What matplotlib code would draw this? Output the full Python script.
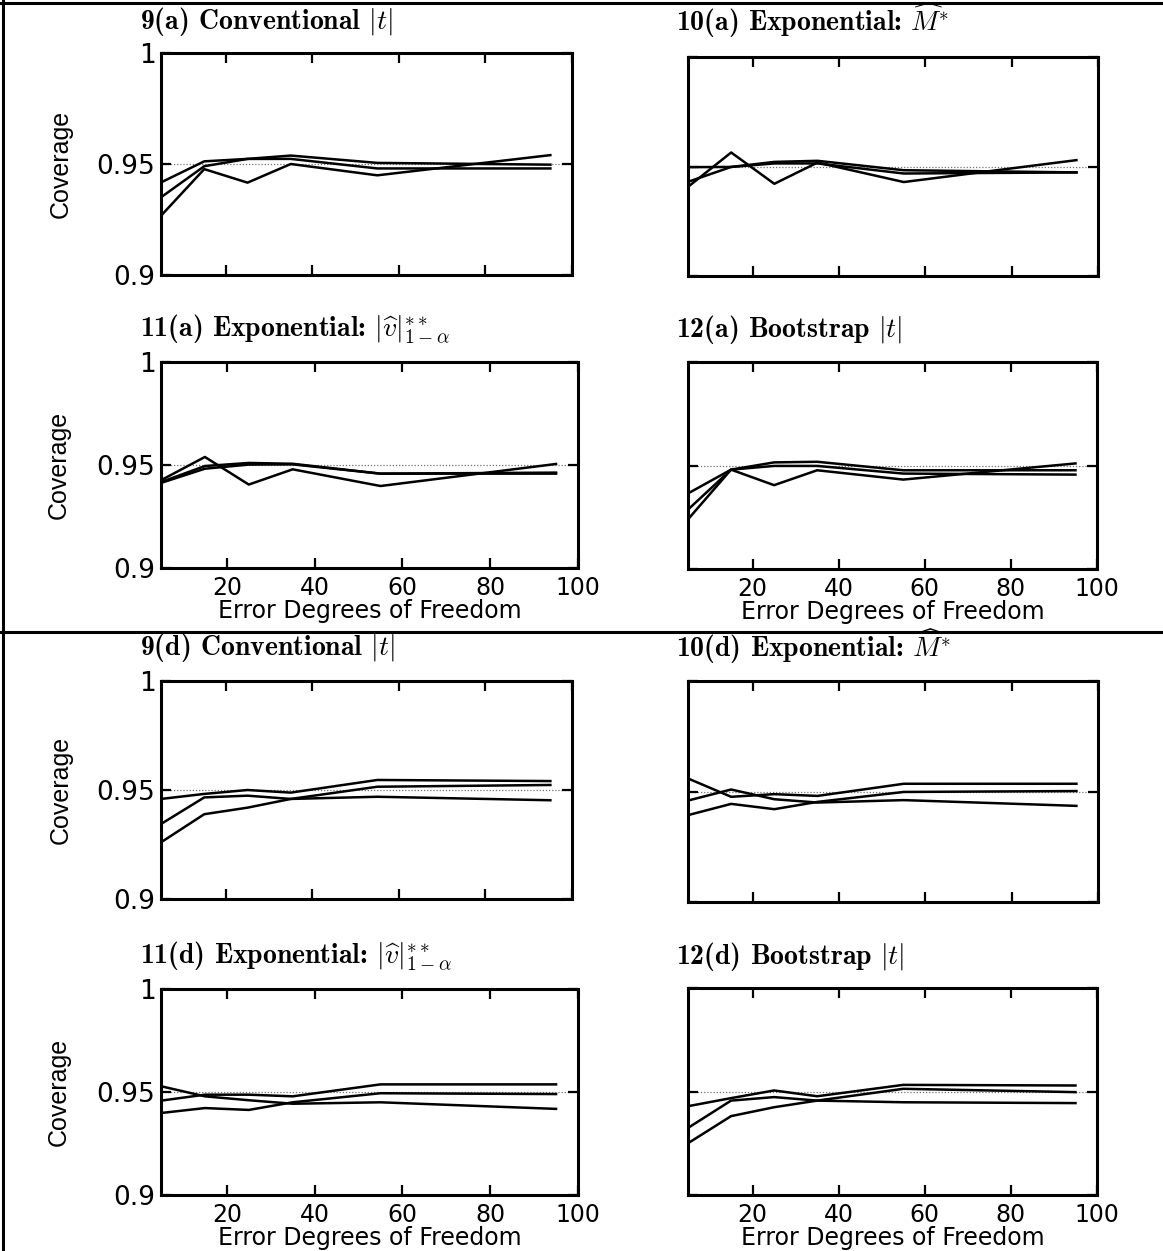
import matplotlib
matplotlib.use("Agg")
import matplotlib.pyplot as plt
from matplotlib.lines import Line2D

# error degrees of freedom at which coverage was simulated
df = [5, 15, 25, 35, 55, 95]
nominal = 0.95

# three curves per panel
cov_9a = [
    [0.9417, 0.9512, 0.9523, 0.9538, 0.9505, 0.9497],
    [0.9350, 0.9490, 0.9523, 0.9523, 0.9480, 0.9480],
    [0.9267, 0.9477, 0.9416, 0.9500, 0.9449, 0.9540],
]
cov_10a = [
    [0.9497, 0.9498, 0.9514, 0.9514, 0.9468, 0.9473],
    [0.9430, 0.9498, 0.9521, 0.9526, 0.9483, 0.9473],
    [0.9407, 0.9564, 0.9421, 0.9518, 0.9429, 0.9529],
]
cov_11a = [
    [0.9417, 0.9495, 0.9510, 0.9506, 0.9458, 0.9463],
    [0.9413, 0.9482, 0.9502, 0.9503, 0.9458, 0.9458],
    [0.9426, 0.9539, 0.9405, 0.9479, 0.9398, 0.9505],
]
cov_12a = [
    [0.9365, 0.9480, 0.9515, 0.9518, 0.9477, 0.9477],
    [0.9287, 0.9480, 0.9498, 0.9498, 0.9461, 0.9456],
    [0.9240, 0.9480, 0.9405, 0.9477, 0.9432, 0.9510],
]
cov_9d = [
    [0.9459, 0.9482, 0.9500, 0.9488, 0.9546, 0.9541],
    [0.9344, 0.9466, 0.9474, 0.9459, 0.9469, 0.9453],
    [0.9260, 0.9389, 0.9419, 0.9459, 0.9515, 0.9523],
]
cov_10d = [
    [0.9559, 0.9476, 0.9488, 0.9480, 0.9535, 0.9535],
    [0.9459, 0.9509, 0.9465, 0.9450, 0.9461, 0.9435],
    [0.9393, 0.9444, 0.9420, 0.9453, 0.9498, 0.9502],
]
cov_11d = [
    [0.9528, 0.9479, 0.9460, 0.9443, 0.9450, 0.9418],
    [0.9458, 0.9487, 0.9487, 0.9479, 0.9537, 0.9537],
    [0.9398, 0.9422, 0.9413, 0.9450, 0.9494, 0.9490],
]
cov_12d = [
    [0.9429, 0.9468, 0.9505, 0.9477, 0.9532, 0.9529],
    [0.9324, 0.9456, 0.9473, 0.9456, 0.9448, 0.9444],
    [0.9250, 0.9381, 0.9424, 0.9456, 0.9513, 0.9497],
]

x_ticks = [20, 40, 60, 80, 100]
y_ticks = [0.9, 0.95, 1.0]
y_ticklabels = ["0.9", "0.95", "1"]

W, H = 1163, 1251

plt.rcParams["mathtext.fontset"] = "cm"
plt.rcParams["font.family"] = "DejaVu Sans"

fig = plt.figure(figsize=(W / 100, H / 100), dpi=100)


def px_box(left, top, right, bottom):
    return [left / W, 1 - bottom / H, (right - left) / W, (bottom - top) / H]


# (data, title, axes box in px, title anchor in px, x labels, y labels)
panels = [
    (cov_9a, r"9(a) Conventional $|t|$", (161, 53, 572, 275), (140, 29), False, True),
    (cov_10a, r"10(a) Exponential: $\widehat{M}^{*}$", (688, 57, 1098, 276), (676, 31), False, False),
    (cov_11a, r"11(a) Exponential: $|\widehat{v}|^{**}_{1-\alpha}$", (161, 362, 578, 568), (140, 337), True, True),
    (cov_12a, r"12(a) Bootstrap $|t|$", (688, 362, 1097, 569), (676, 337), True, False),
    (cov_9d, r"9(d) Conventional $|t|$", (161, 681, 572, 899), (140, 655), False, True),
    (cov_10d, r"10(d) Exponential: $\widehat{M}^{*}$", (688, 681, 1098, 902), (676, 657), False, False),
    (cov_11d, r"11(d) Exponential: $|\widehat{v}|^{**}_{1-\alpha}$", (161, 989, 578, 1195), (140, 964), True, True),
    (cov_12d, r"12(d) Bootstrap $|t|$", (688, 988, 1097, 1195), (676, 964), True, False),
]

for data, title, box, tpos, show_x, show_y in panels:
    ax = fig.add_axes(px_box(*box))
    ax.axhline(nominal, color="0.45", ls=(0, (1, 1.5)), lw=0.9, zorder=1)
    for series in data:
        ax.plot(df, series, color="black", lw=1.8, zorder=2)

    ax.set_xlim(5, 100)
    ax.set_ylim(0.9, 1.0)
    ax.set_xticks(x_ticks)
    ax.set_yticks(y_ticks)
    ax.set_yticklabels(y_ticklabels)
    for s in ax.spines.values():
        s.set_linewidth(2.2)
    ax.tick_params(direction="in", top=True, right=True, length=7, width=1.6,
                   labelbottom=show_x, labelleft=show_y)
    ax.tick_params(axis="x", labelsize=17, pad=6)
    ax.tick_params(axis="y", labelsize=19, pad=4)

    h = box[3] - box[1]
    if show_y:
        ax.set_ylabel("Coverage", family=["Liberation Sans Narrow", "Liberation Sans"], fontsize=18)
        ax.yaxis.set_label_coords(-0.245, 0.5)
        ax.yaxis.label.set_va("center")
    if show_x:
        ax.set_xlabel("Error Degrees of Freedom", fontsize=17)
        ax.xaxis.set_label_coords(0.5, -31 / h)
        ax.xaxis.label.set_va("top")

    fig.text(tpos[0] / W, 1 - tpos[1] / H, title, family="cmb10", fontsize=20,
             ha="left", va="baseline")

# table rules around the two blocks
rule = dict(color="black", lw=2.2, transform=fig.transFigure)
fig.add_artist(Line2D([2.5 / W, 2.5 / W], [0, 1], **rule))
fig.add_artist(Line2D([0, 1], [1 - 2.5 / H, 1 - 2.5 / H], **rule))
fig.add_artist(Line2D([0, 1], [1 - 632 / H, 1 - 632 / H], **rule))

fig.savefig("out.png", dpi=100)
